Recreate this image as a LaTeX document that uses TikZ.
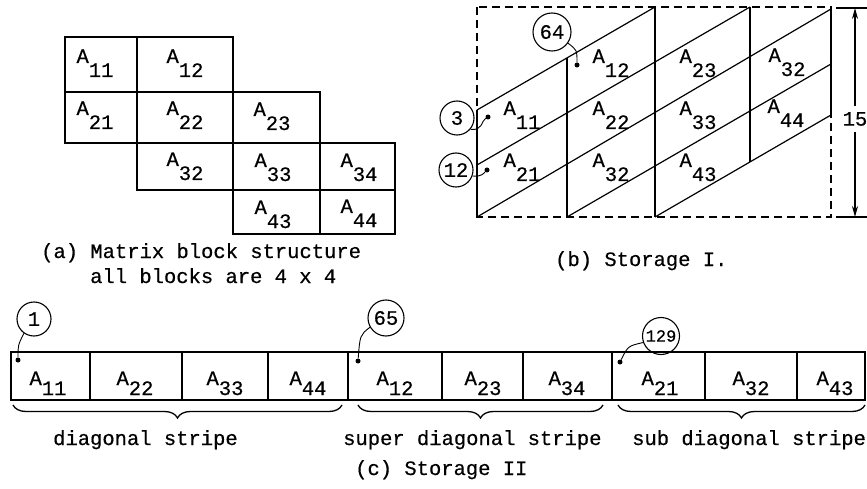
\documentclass[tikz,border=0pt]{standalone}
\usepackage{fontspec}
\newfontfamily\tw[FakeBold=0.5]{Liberation Mono}
\usetikzlibrary{arrows.meta,decorations.pathreplacing}

% block label: A with a lowered index in the same type size
\newcommand\blk[2][14pt]{A\raisebox{-#1}{#2}}

\begin{document}
\begin{tikzpicture}[x=1pt,y=-1pt,
  every node/.style={font=\tw\fontsize{20.5}{24}\selectfont, inner sep=0pt},
  cellline/.style={line width=1.4pt},
  frame/.style={line width=1.3pt, dash pattern=on 8pt off 5pt},
  gridline/.style={line width=1.2pt},
  tag/.style={draw, circle, line width=1.1pt, minimum size=34pt},
  leader/.style={line width=0.9pt},
  dot/.style={circle, fill, minimum size=5pt, inner sep=0pt},
  lbl/.style={anchor=base},
  captext/.style={anchor=base west},
  stripe/.style={line width=1.3pt, decorate,
    decoration={brace, mirror, amplitude=13pt}}]

\useasboundingbox (0,0) rectangle (867,489);

% ---------- (a) block structure of the matrix ----------
\draw[cellline] (65,37) rectangle (137,92);
\draw[cellline] (137,37) rectangle (233,92);
\draw[cellline] (65,92) rectangle (137,143);
\draw[cellline] (137,92) rectangle (233,143);
\draw[cellline] (233,92) rectangle (320,143);
\draw[cellline] (137,143) rectangle (233,190);
\draw[cellline] (233,143) rectangle (320,190);
\draw[cellline] (320,143) rectangle (395,190);
\draw[cellline] (233,190) rectangle (320,234);
\draw[cellline] (320,190) rectangle (395,234);

\node[lbl] (a11) at (95,63)  {\blk{11}};
\node[lbl] (a12) at (185,63) {\blk{12}};
\node[lbl] (a21) at (95,115) {\blk{21}};
\node[lbl] (a22) at (185,115) {\blk{22}};
\node[lbl] (a23) at (272,116) {\blk{23}};
\node[lbl] (a32) at (185,166) {\blk{32}};
\node[lbl] (a33) at (273,167) {\blk{33}};
\node[lbl] (a34) at (359,167) {\blk{34}};
\node[lbl] (a43) at (273,214) {\blk{43}};
\node[lbl] (a44) at (359,213) {\blk{44}};

\node[captext] (capa1) at (41,258) {(a) Matrix block structure};
\node[captext] (capa2) at (90,283) {all blocks are 4 x 4};

% ---------- (b) storage scheme I ----------
\draw[frame] (477,7) rectangle (831,217);
% columns
\draw[gridline] (477,110) -- (477,217);
\draw[gridline] (567,58) -- (567,217);
\draw[gridline] (655,7) -- (655,217);
\draw[gridline] (750,7) -- (750,162);
\draw[gridline] (831,7) -- (831,115);
% slanted stripes
\draw[gridline] (477,110) -- (655,7);
\draw[gridline] (477,165) -- (750,7);
\draw[gridline] (477,217) -- (831,9);
\draw[gridline] (567,217) -- (831,64);
\draw[gridline] (655,217) -- (831,115);

\node[lbl] (b12) at (611,63)  {\blk{12}};
\node[lbl] (b23) at (698,63)  {\blk{23}};
\node[lbl] (b32a) at (787,62) {\blk{32}};
\node[lbl] (b11) at (522,115) {\blk{11}};
\node[lbl] (b22) at (611,115) {\blk{22}};
\node[lbl] (b33) at (698,115) {\blk{33}};
\node[lbl] (b44) at (786,113) {\blk{44}};
\node[lbl] (b21) at (522,167) {\blk{21}};
\node[lbl] (b32b) at (611,167) {\blk{32}};
\node[lbl] (b43) at (698,167) {\blk{43}};

% address tags
\node[tag, minimum size=38pt] (t64) at (552,32) {64};
\node[dot] (d64) at (577,65) {};
\draw[leader] (t64.-35) .. controls (577,50) .. (d64);

\node[tag] (t3) at (457,118) {3};
\node[dot] (d3) at (488,117) {};
\draw[leader] (t3.-40) .. controls (483,131) and (481,121) .. (d3);

\node[tag] (t12) at (456,170) {12};
\node[dot] (d12) at (487,170) {};
\draw[leader] (t12.-20) .. controls (482,177) and (484,173) .. (d12);

% height dimension
\coordinate (dtop) at (855,8);
\coordinate (dbot) at (855,217);
\draw[gridline] (836,8) -- (867,8);
\draw[gridline] (836,217) -- (867,217);
\node (dim) at (855,119) {15};
\draw[gridline, -{Stealth[length=11pt,width=6pt]}] (855,106) -- (dtop);
\draw[gridline, -{Stealth[length=11pt,width=6pt]}] (855,132) -- (dbot);

\node[captext] (capb) at (555,266) {(b) Storage I.};

% ---------- (c) storage scheme II ----------
\draw[cellline] (11,352) rectangle (865,400);
\foreach \xx in {90,182,268,348,442,523,612,705,797}
  \draw[cellline] (\xx,352) -- (\xx,400);

\node[lbl] (c11) at (48,385)  {\blk[10pt]{11}};
\node[lbl] (c22) at (135,385) {\blk[10pt]{22}};
\node[lbl] (c33) at (225,385) {\blk[10pt]{33}};
\node[lbl] (c44) at (308,385) {\blk[10pt]{44}};
\node[lbl] (c12) at (395,385) {\blk[10pt]{12}};
\node[lbl] (c23) at (483,385) {\blk[10pt]{23}};
\node[lbl] (c34) at (567,385) {\blk[10pt]{34}};
\node[lbl] (c21) at (660,385) {\blk[10pt]{21}};
\node[lbl] (c32) at (751,385) {\blk[10pt]{32}};
\node[lbl] (c43) at (835,385) {\blk[10pt]{43}};

\node[tag] (t1) at (34,319) {1};
\node[dot] (d1) at (18,360) {};
\draw[leader] (t1.235) .. controls (18,345) .. (d1);

\node[tag, minimum size=36pt] (t65) at (386,318) {65};
\node[dot] (d65) at (358,361) {};
\draw[leader] (t65.210) .. controls (360,335) .. (d65);

\node[tag, minimum size=37pt, font=\tw\fontsize{17}{20}\selectfont] (t129) at (661,336) {129};
\node[dot] (d129) at (620,362) {};
\draw[leader] (t129.200) .. controls (628,346) .. (d129);

% stripe braces
\draw[stripe] (13,405) -- (342,405);
\draw[stripe] (358,405) -- (603,405);
\draw[stripe] (618,405) -- (865,405);

\node[captext] (s1) at (53,445)  {diagonal stripe};
\node[captext] (s2) at (343,445) {super diagonal stripe};
\node[captext] (s3) at (632,445) {sub diagonal stripe};

\node[captext] (capc) at (355,475) {(c) Storage II};

\end{tikzpicture}
\end{document}
